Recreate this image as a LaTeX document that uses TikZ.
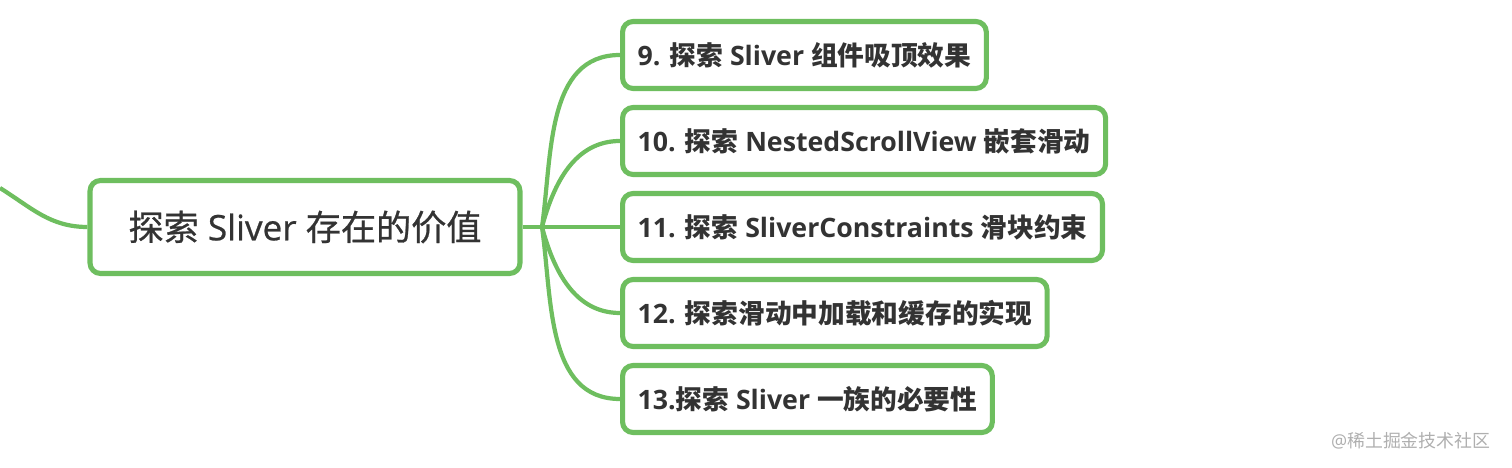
\documentclass[tikz,border=0pt]{standalone}
\usepackage{fontspec}
\usepackage{xcolor}
\usepackage{tikz}
\usetikzlibrary{positioning, calc}
\setmainfont{Open Sans}
\newfontfamily\cjk{Noto Sans CJK SC}
\newfontfamily\rootlat{Open Sans}[FakeBold=0.7]
\newfontfamily\rootcjk{Noto Sans CJK SC}[FakeBold=0.7]
\definecolor{mygreen}{RGB}{110,190,95}
\definecolor{mytext}{RGB}{51,51,51}
\definecolor{mygray}{RGB}{175,175,175}
\tikzset{
  rootnode/.style={rectangle, draw=mygreen, fill=white, line width=1.45pt,
    rounded corners=3pt, minimum width=4.3cm, minimum height=0.93cm,
    font=\fontsize{10}{12}\selectfont\rootlat, text=mytext},
  topicnode/.style={rectangle, draw=mygreen, fill=white, line width=1.45pt,
    rounded corners=3pt, minimum height=0.67cm, inner xsep=0.15cm,
    font=\fontsize{7.6}{9}\selectfont\bfseries, text=mytext, anchor=west},
  branch/.style={mygreen, line width=1.2pt}
}

\begin{document}
\begin{tikzpicture}
  \useasboundingbox (0,0) rectangle (15.12,4.68);

  % --- Root ---
  \node[rootnode] (R) at (3.05,2.41) {{\rootcjk 探索} Sliver {\rootcjk 存在的价值}};
  \coordinate (P) at (0,2.80);
  \draw[branch] (P) to[out=-32, in=180] (R.west);

  % --- Topics ---
  \node[topicnode] (T1) at (6.2,4.13) {9. {\cjk\bfseries 探索} Sliver {\cjk\bfseries 组件吸顶效果}};
  \node[topicnode] (T2) at (6.2,3.27) {10. {\cjk\bfseries 探索} NestedScrollView {\cjk\bfseries 嵌套滑动}};
  \node[topicnode] (T3) at (6.2,2.41) {11. {\cjk\bfseries 探索} SliverConstraints {\cjk\bfseries 滑块约束}};
  \node[topicnode] (T4) at (6.2,1.55) {12. {\cjk\bfseries 探索滑动中加载和缓存的实现}};
  \node[topicnode] (T5) at (6.2,0.69) {13.{\cjk\bfseries 探索} Sliver {\cjk\bfseries 一族的必要性}};

  % --- Branches ---
  \coordinate (J) at (5.42,2.41);
  \draw[branch] (R.east) -- (J);
  \draw[branch] (J) to[out=82, in=180] (T1.west);
  \draw[branch] (J) to[out=75, in=180] (T2.west);
  \draw[branch] (J) -- (T3.west);
  \draw[branch] (J) to[out=-75, in=180] (T4.west);
  \draw[branch] (J) to[out=-82, in=180] (T5.west);

  % --- Watermark ---
  \node[anchor=east, text=mygray, font=\fontsize{5.1}{6}\selectfont] (W) at (15.03,0.27) {@{\cjk 稀土掘金技术社区}};
\end{tikzpicture}
\end{document}
